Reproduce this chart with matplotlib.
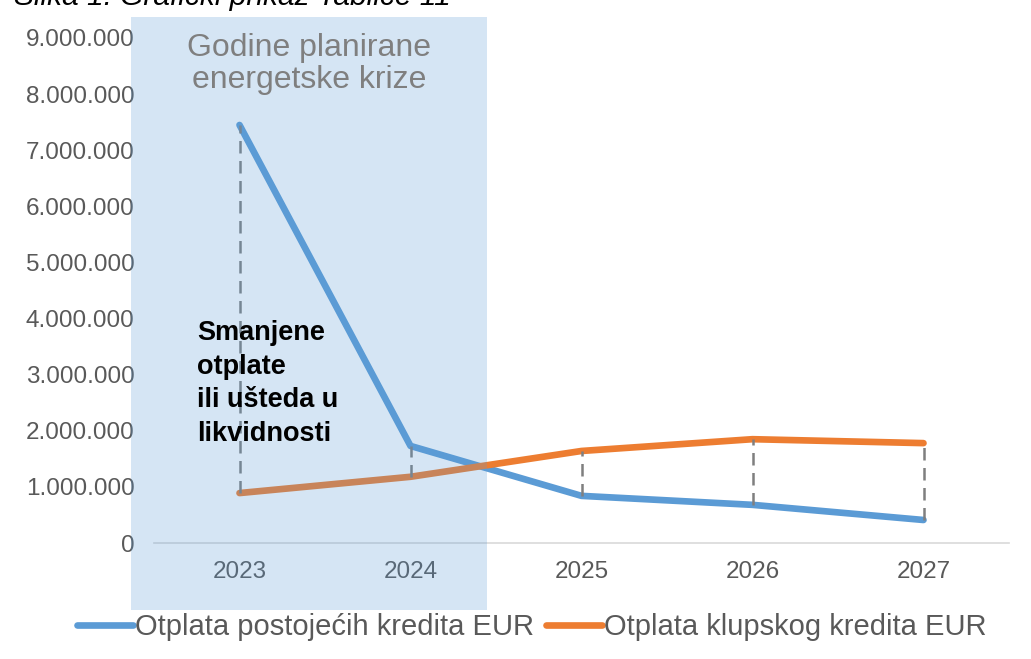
import matplotlib.pyplot as plt
from matplotlib.patches import Rectangle
from matplotlib.ticker import FuncFormatter
import numpy as np

plt.rcParams['font.family'] = ['Liberation Sans', 'DejaVu Sans']

years = ['2023', '2024', '2025', '2026', '2027']
postojeci = [7450000, 1730000, 840000, 680000, 410000]
klupski = [890000, 1180000, 1640000, 1850000, 1780000]
yticks = np.arange(0, 9000001, 1000000)

blue = '#5b9bd5'
orange = '#ed7d31'
txt = '#595959'

fig = plt.figure(figsize=(10.31, 6.59), dpi=100)
ax = fig.add_axes([154/1031, 1 - 543/659, 855/1031, 505/659])

x = np.arange(len(years))
ax.plot(x, postojeci, color=blue, lw=4.8, solid_capstyle='round', label='Otplata postojećih kredita EUR', zorder=3)
ax.plot(x, klupski, color=orange, lw=4.8, solid_capstyle='round', label='Otplata klupskog kredita EUR', zorder=3)
ax.vlines(x, np.minimum(postojeci, klupski), np.maximum(postojeci, klupski),
          colors='#7f7f7f', linestyles=(0, (5, 3)), lw=1.8, zorder=4)

ax.set_xlim(-0.5, 4.5)
ax.set_ylim(0, 9000000)
ax.set_xticks(x)
ax.set_xticklabels(years)
ax.set_yticks(yticks)
ax.yaxis.set_major_formatter(FuncFormatter(lambda v, p: f'{int(v):,}'.replace(',', '.')))
ax.tick_params(length=0, labelsize=17.5, colors=txt)
ax.tick_params(axis='y', pad=14)
ax.tick_params(axis='x', pad=13)
for s in ['top', 'right', 'left']:
    ax.spines[s].set_visible(False)
ax.spines['bottom'].set_color('#d9d9d9')
ax.spines['bottom'].set_linewidth(1.2)
ax.set_facecolor('none')

# shaded band for crisis years
fig.patches.append(Rectangle((131/1031, 1 - 610/659), 356/1031, 593/659,
                             transform=fig.transFigure, facecolor=blue, alpha=0.25,
                             edgecolor='none', zorder=10))

fig.text(309/1031, 1 - 64/659, 'Godine planirane\nenergetske krize', ha='center', va='center',
         fontsize=23, color='#7f7f7f', linespacing=1.12, zorder=11)
fig.text(197/1031, 1 - 320/659, 'Smanjene\notplate\nili ušteda u\nlikvidnosti',
         ha='left', va='top', fontsize=19.5, fontweight='bold', color='black', linespacing=1.38, zorder=11)

fig.text(14/1031, 1 - 5/659, 'Slika 1: Grafički prikaz Tablice 11', ha='left', va='baseline',
         fontsize=21.5, style='italic', color='black')

ax.legend(loc='center', bbox_to_anchor=(532/1031, 1 - 627/659), bbox_transform=fig.transFigure,
          ncol=2, frameon=False, fontsize=21, labelcolor=txt, handlelength=1.9,
          handletextpad=0.1, columnspacing=0.4)

fig.savefig('out.png', dpi=100)
